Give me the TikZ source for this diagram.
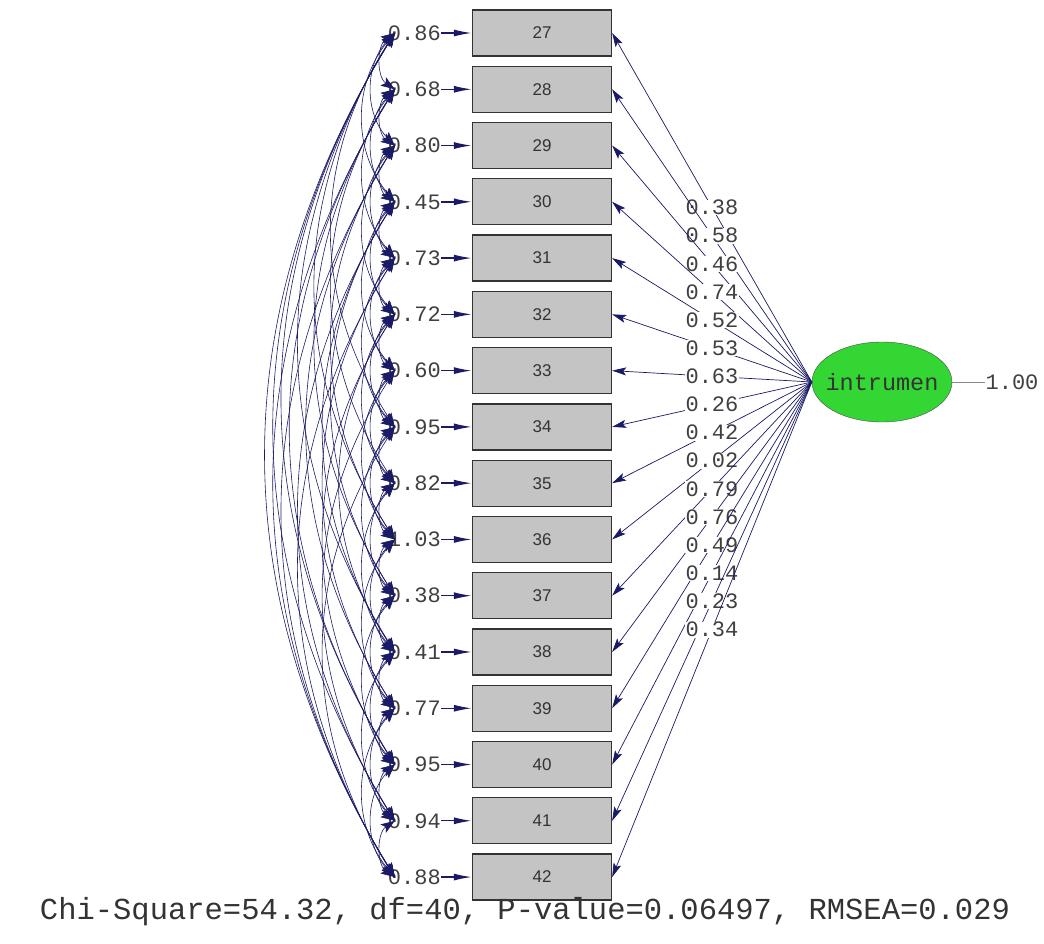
\documentclass[tikz,border=0pt]{standalone}
\usepackage{fontspec}
\setmainfont{Liberation Sans}
\newfontfamily\cour{Liberation Mono}
\usepackage{tikz}
\usetikzlibrary{positioning,calc,arrows.meta,shapes.geometric}
\definecolor{pathnavy}{HTML}{1A1A66}
\definecolor{boxgray}{HTML}{C4C4C4}
\definecolor{latgreen}{HTML}{33D633}
\definecolor{linegray}{HTML}{8A8A8A}

\begin{document}
\begin{tikzpicture}[x=1pt,y=-1pt,
  obs/.style={rectangle, draw=black!80, fill=boxgray, line width=1.3pt, minimum width=139pt, minimum height=46pt, inner sep=0pt, font=\fontsize{17}{17}\selectfont, text=black!80},
  lat/.style={ellipse, draw=black!70, fill=latgreen, minimum width=140pt, minimum height=80pt, inner xsep=-14pt, inner ysep=0pt, font=\cour\fontsize{23.5}{23.5}\selectfont, text=black!80},
  num/.style={font=\cour\fontsize{22}{22}\selectfont, inner sep=0pt, text=black!75},
  load/.style={-{Stealth[length=14pt,width=8pt,inset=3pt]}, color=pathnavy, line width=0.7pt},
  err/.style={-{Latex[length=18pt,width=7pt]}, color=pathnavy, line width=1.4pt},
  cov/.style={{Stealth[length=14pt,width=10pt,inset=3pt]}-{Stealth[length=14pt,width=10pt,inset=3pt]}, color=pathnavy, line width=0.6pt}
]
\useasboundingbox (0,0) rectangle (1044,943);
\fill[white] (0,0) rectangle (1044,943);

\node[lat] (lat) at (882,382) {intrumen};
\node[num] (var) at (1012,382) {1.00};
\draw[linegray, line width=0.6pt] (lat) -- (var);

\foreach \v/\e/\l [count=\k from 0] in {27/0.86/0.38, 28/0.68/0.58, 29/0.80/0.46, 30/0.45/0.74,
    31/0.73/0.52, 32/0.72/0.53, 33/0.60/0.63, 34/0.95/0.26, 35/0.82/0.42, 36/1.03/0.02,
    37/0.38/0.79, 38/0.41/0.76, 39/0.77/0.49, 40/0.95/0.14, 41/0.94/0.23, 42/0.88/0.34}{
  \node[obs] (x\v) at (542,{33+56.27*\k}) {\v};
  \node[num, anchor=east] (e\v) at (441,{33+56.27*\k}) {\e};
  \draw[err] (e\v) -- (x\v);
  \draw[load] (lat.west) -- node[num, fill=white, inner sep=0.5pt] {\l} (x\v.east);
}

\foreach \d in {1,2,3}{
  \pgfmathtruncatemacro\upto{42-\d}
  \foreach \i in {27,...,\upto}{
    \pgfmathtruncatemacro\j{\i+\d}
    \pgfmathsetmacro\ang{32+24/\d}
    \draw[cov] ([xshift=7pt]e\i.west) to[bend right=\ang] ([xshift=7pt]e\j.west);
  }
}
\foreach \i/\j in {27/42, 27/41, 27/40, 27/38, 27/36, 28/42, 28/40, 28/37, 29/42, 29/39, 27/34,
    28/35, 30/41, 31/42, 29/36, 30/38, 31/39, 32/40, 33/41, 34/42, 30/37, 32/38}{
  \pgfmathsetmacro\ang{30+22/(\j-\i)}
  \draw[cov] ([xshift=7pt]e\i.west) to[bend right=\ang] ([xshift=7pt]e\j.west);
}

\node[font=\cour\fontsize{30.5}{31}\selectfont, text=black!80] (fit) at (525,912) {Chi-Square=54.32, df=40, P-value=0.06497, RMSEA=0.029};
\end{tikzpicture}
\end{document}
